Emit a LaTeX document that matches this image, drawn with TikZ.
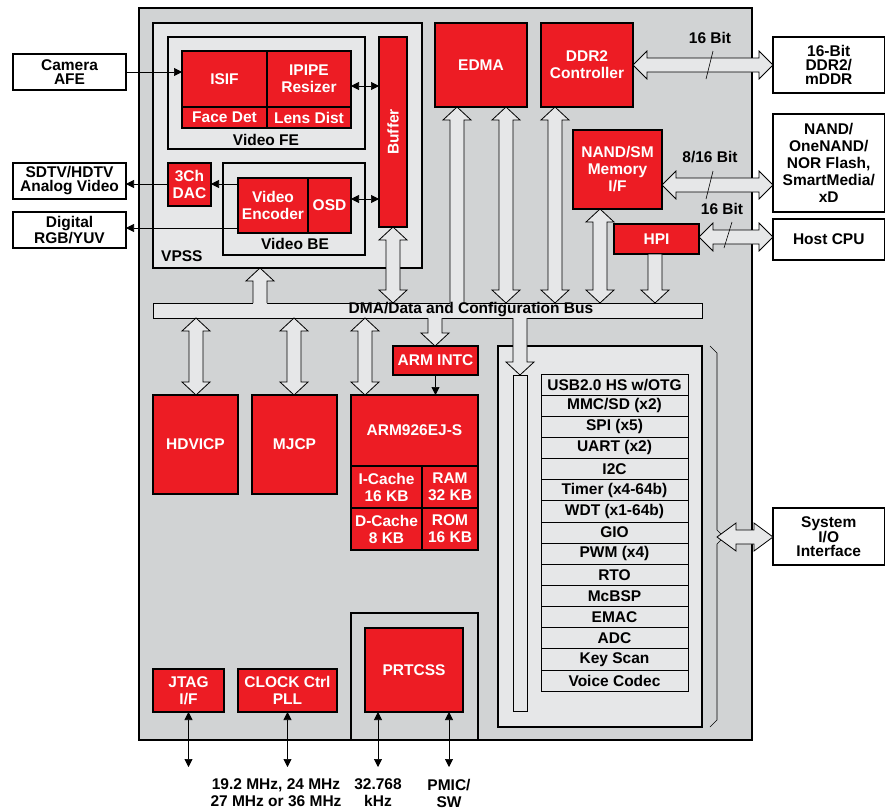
\documentclass[tikz,border=0pt]{standalone}
\usepackage{fontspec}
\setmainfont{Liberation Sans}
\usetikzlibrary{calc,arrows.meta}
\definecolor{chipg}{HTML}{D1D3D4}
\definecolor{lightg}{HTML}{E6E7E8}
\definecolor{tired}{HTML}{ED1C24}
\newcommand\tf{\bfseries\fontsize{15.5}{17}\selectfont}
\newcommand\tfs{\bfseries\fontsize{15.5}{14}\selectfont}
\tikzset{
  fatline/.style={draw=black, line width=0.8pt},
}
% vertical double-headed fat arrow: #1 top tip, #2 bottom tip
\newcommand\fatVV[2]{\path[fill=lightg,fatline] let \p1=#1, \p2=#2 in
  (\x1,\y1) -- (\x1+14pt,\y1-13pt) -- (\x1+7pt,\y1-13pt) -- (\x1+7pt,\y2+13pt) -- (\x1+14pt,\y2+13pt) -- (\x1,\y2)
  -- (\x1-14pt,\y2+13pt) -- (\x1-7pt,\y2+13pt) -- (\x1-7pt,\y1-13pt) -- (\x1-14pt,\y1-13pt) -- cycle;}
% up head only, open bottom merging into bus: #1 top tip, #2 bottom end
\newcommand\fatVU[2]{%
  \fill[lightg] let \p1=#1, \p2=#2 in (\x1,\y1) -- (\x1+14pt,\y1-13pt) -- (\x1+7pt,\y1-13pt) -- (\x1+7pt,\y2-2pt) -- (\x1-7pt,\y2-2pt) -- (\x1-7pt,\y1-13pt) -- (\x1-14pt,\y1-13pt) -- cycle;
  \draw[fatline] let \p1=#1, \p2=#2 in (\x1+7pt,\y2) -- (\x1+7pt,\y1-13pt) -- (\x1+14pt,\y1-13pt) -- (\x1,\y1) -- (\x1-14pt,\y1-13pt) -- (\x1-7pt,\y1-13pt) -- (\x1-7pt,\y2);}
% down head only, closed top: #1 top end, #2 bottom tip
\newcommand\fatVD[2]{\path[fill=lightg,fatline] let \p1=#1, \p2=#2 in
  (\x1+7pt,\y1) -- (\x1+7pt,\y2+13pt) -- (\x1+14pt,\y2+13pt) -- (\x1,\y2) -- (\x1-14pt,\y2+13pt) -- (\x1-7pt,\y2+13pt) -- (\x1-7pt,\y1) -- cycle;}
% down head only, open top merging into bus: #1 top end, #2 bottom tip
\newcommand\fatVDm[2]{%
  \fill[lightg] let \p1=#1, \p2=#2 in (\x1+7pt,\y1+2pt) -- (\x1+7pt,\y2+13pt) -- (\x1+14pt,\y2+13pt) -- (\x1,\y2) -- (\x1-14pt,\y2+13pt) -- (\x1-7pt,\y2+13pt) -- (\x1-7pt,\y1+2pt) -- cycle;
  \draw[fatline] let \p1=#1, \p2=#2 in (\x1+7pt,\y1) -- (\x1+7pt,\y2+13pt) -- (\x1+14pt,\y2+13pt) -- (\x1,\y2) -- (\x1-14pt,\y2+13pt) -- (\x1-7pt,\y2+13pt) -- (\x1-7pt,\y1);}
% horizontal double-headed fat arrow: #1 left tip, #2 right tip, #3 head length
\newcommand\fatHH[3]{\path[fill=lightg,fatline] let \p1=#1, \p2=#2 in
  (\x1,\y1) -- (\x1+#3,\y1+14pt) -- (\x1+#3,\y1+7pt) -- (\x2-#3,\y1+7pt) -- (\x2-#3,\y1+14pt) -- (\x2,\y1)
  -- (\x2-#3,\y1-14pt) -- (\x2-#3,\y1-7pt) -- (\x1+#3,\y1-7pt) -- (\x1+#3,\y1-14pt) -- cycle;}
\begin{document}
\begin{tikzpicture}[x=1pt,y=-1pt,
  area/.style args={(#1,#2)(#3,#4)}{at={({(#1+#3)/2},{(#2+#4)/2})}, minimum width={(#3-#1)*1pt}, minimum height={(#4-#2)*1pt}, inner sep=0pt, outer sep=0pt},
  redb/.style={area={#1}, draw=black, line width=1.4pt, fill=tired, text=white, font=\tf, align=center},
  extb/.style={area={#1}, draw=black, line width=1.4pt, fill=white, font=\tfs, align=center},
  lbox/.style={area={#1}, draw=black, line width=1.4pt, fill=lightg},
  gbox/.style={area={#1}, draw=black, line width=1.4pt, fill=chipg},
  barb/.style={area={#1}, draw=black, line width=0.8pt, fill=lightg},
  rowb/.style={area={#1}, draw=black, line width=0.8pt, fill=lightg, font=\tf},
  lbl/.style={font=\tf, align=center, inner sep=0pt},
  thinarr/.style={line width=0.7pt, -{Triangle[length=8pt,width=8pt]}},
  thinarrb/.style={line width=0.7pt, {Triangle[length=8pt,width=8pt]}-{Triangle[length=8pt,width=8pt]}},
]
\useasboundingbox (0,0) rectangle (886,809);
\fill[white] (0,0) rectangle (886,809);

% chip
\node[gbox={(139,8)(752,740)}] (chip) {};

% VPSS
\node[lbox={(153,23)(422,268)}] (vpss) {};
\node[lbl, anchor=west] (vpsslbl) at (161,256) {VPSS};
\node[lbox={(168,37)(365,149)}] (vfe) {};
\node[lbl] (vfelbl) at (266,140) {Video FE};
\node[lbox={(223,163)(365,255)}] (vbe) {};
\node[lbl] (vbelbl) at (295,244) {Video BE};
\node[redb={(182,51)(267,107)}] (isif) {ISIF};
\node[redb={(267,51)(351,107)}] (ipipe) {IPIPE\\Resizer};
\node[redb={(182,107)(267,128)}] (face) {Face Det};
\node[redb={(267,107)(351,128)}] (lens) {Lens Dist};
\node[redb={(379,37)(407,227)}] (buffer) {};
\node[lbl, rotate=90, text=white] (buftxt) at (buffer.center) {Buffer};
\node[redb={(168,163)(211,206)}] (dac) {3Ch\\DAC};
\node[redb={(238,178)(308,233)}] (venc) {Video\\Encoder};
\node[redb={(308,178)(351,233)}] (osd) {OSD};

% external left
\node[extb={(13,54)(126,90)}] (cam) {Camera\\AFE};
\node[extb={(13,163)(126,199)}] (sdtv) {SDTV/HDTV\\Analog Video};
\node[extb={(13,212)(126,248)}] (rgb) {Digital\\RGB/YUV};

% top right blocks
\node[redb={(435,23)(527,107)}] (edma) {EDMA};
\node[redb={(541,23)(633,107)}] (ddr) {DDR2\\Controller};
\node[redb={(573,130)(662,209)}] (nand) {NAND/SM\\Memory\\I/F};
\node[redb={(614,224)(699,254)}] (hpi) {HPI};

% external right
\node[extb={(773,37)(884.5,93)}] (ddrx) {16-Bit\\DDR2/\\mDDR};
\node[extb={(773,114)(884.5,212)}, font=\tf] (nandx) {NAND/\\OneNAND/\\NOR Flash,\\SmartMedia/\\xD};
\node[extb={(773,219)(884.5,260)}] (host) {Host CPU};
\node[extb={(773,508)(884.5,565)}] (sysio) {System\\I/O\\Interface};

% bus
\node[barb={(153,303)(702,318)}] (bus) {};

% middle blocks
\node[redb={(393,346)(478,375)}] (intc) {ARM INTC};
\node[redb={(153,395)(238,494)}] (hdvicp) {HDVICP};
\node[redb={(252,395)(337,494)}] (mjcp) {MJCP};
\node[redb={(351,395)(478,466)}] (arm) {ARM926EJ-S};
\node[redb={(351,466)(422,508)}] (icache) {I-Cache\\16 KB};
\node[redb={(422,466)(478,508)}] (ram) {RAM\\32 KB};
\node[redb={(351,508)(422,550)}] (dcache) {D-Cache\\8 KB};
\node[redb={(422,508)(478,550)}] (rom) {ROM\\16 KB};

% bottom blocks
\node[gbox={(351,613)(478,740)}] (rtcout) {};
\node[redb={(365,628)(463,712)}] (prtcss) {PRTCSS};
\node[redb={(153,669)(224,712)}] (jtag) {JTAG\\I/F};
\node[redb={(238,669)(337,712)}] (clock) {CLOCK Ctrl\\PLL};

% peripherals
\node[lbox={(498,346)(702,727)}] (perif) {};
\node[barb={(513,375)(527,711)}] (pbar) {};
\node[rowb={(541,374.0)(688,395.1)}] (r1) {USB2.0 HS w/OTG};
\node[rowb={(541,395.1)(688,416.3)}] (r2) {MMC/SD (x2)};
\node[rowb={(541,416.3)(688,437.4)}] (r3) {SPI (x5)};
\node[rowb={(541,437.4)(688,458.5)}] (r4) {UART (x2)};
\node[rowb={(541,458.5)(688,479.7)}] (r5) {I2C};
\node[rowb={(541,479.7)(688,500.8)}] (r6) {Timer (x4-64b)};
\node[rowb={(541,500.8)(688,521.9)}] (r7) {WDT (x1-64b)};
\node[rowb={(541,521.9)(688,543.1)}] (r8) {GIO};
\node[rowb={(541,543.1)(688,564.2)}] (r9) {PWM (x4)};
\node[rowb={(541,564.2)(688,585.3)}] (r10) {RTO};
\node[rowb={(541,585.3)(688,606.5)}] (r11) {McBSP};
\node[rowb={(541,606.5)(688,627.6)}] (r12) {EMAC};
\node[rowb={(541,627.6)(688,648.7)}] (r13) {ADC};
\node[rowb={(541,648.7)(688,669.9)}] (r14) {Key Scan};
\node[rowb={(541,669.9)(688,691.0)}] (r15) {Voice Codec};

% brace
\draw[line width=0.6pt] (710,346) -- (717,353) -- (717,530) -- (724,537) -- (717,544) -- (717,720) -- (710,727);

% fat arrows to/from bus
\fatVU{(260,0 |- vpss.south)}{(260,0 |- bus.north)}
\fatVV{(393,0 |- buffer.south)}{(393,0 |- bus.north)}
\fatVU{(457,0 |- edma.south)}{(457,0 |- bus.north)}
\fatVV{(506,0 |- edma.south)}{(506,0 |- bus.north)}
\fatVV{(555,0 |- ddr.south)}{(555,0 |- bus.north)}
\fatVV{(600,0 |- nand.south)}{(600,0 |- bus.north)}
\fatVD{(655,0 |- hpi.south)}{(655,0 |- bus.north)}
\fatVV{(196,0 |- bus.south)}{(196,0 |- hdvicp.north)}
\fatVV{(294,0 |- bus.south)}{(294,0 |- mjcp.north)}
\fatVV{(365,0 |- bus.south)}{(365,0 |- arm.north)}
\fatVDm{(435,0 |- bus.south)}{(435,0 |- intc.north)}
\fatVDm{(520,0 |- bus.south)}{(520,0 |- pbar.north)}

% horizontal fat arrows
\fatHH{(ddr.east)}{(ddrx.west |- ddr.east)}{14pt}
\fatHH{(nand.east |- 0,185)}{(nandx.west |- 0,185)}{14pt}
\fatHH{(hpi.east |- 0,237)}{(host.west |- 0,237)}{14pt}
\coordinate (bracetip) at (717,537);
\fatHH{(bracetip)}{(sysio.west |- bracetip)}{19pt}

% bus label
\node[lbl] (buslbl) at (471,310) {DMA/Data and Configuration Bus};

% bit width labels
\node[lbl] (bw1) at (710,38) {16 Bit};
\node[lbl] (bw2) at (710,157) {8/16 Bit};
\node[lbl] (bw3) at (722,209) {16 Bit};
\draw[line width=0.6pt] (713,51) -- (706,79);
\draw[line width=0.6pt] (713,171) -- (706,199);
\draw[line width=0.6pt] (732,222) -- (724,248);

% thin arrows in VPSS
\draw[thinarr] (cam.east) -- (cam.east -| isif.west);
\draw[thinarrb] (ipipe.east |- 0,86) -- (buffer.west |- 0,86);
\draw[thinarrb] (osd.east |- 0,199) -- (buffer.west |- 0,199);
\draw[thinarr] (venc.west |- 0,184) -- (dac.east |- 0,184);
\draw[thinarr] (dac.west |- 0,184) -- (sdtv.east |- 0,184);
\draw[thinarr] (venc.west |- 0,228) -- (rgb.east |- 0,228);
\draw[thinarr] (intc.south) -- (intc.south |- arm.north);

% bottom thin arrows
\coordinate (jtagend) at (jtag.south |- 0,767);
\coordinate (clkend) at (clock.south |- 0,767);
\coordinate (rtcA) at (378,0 |- prtcss.south);
\coordinate (rtcAend) at (378,767);
\coordinate (rtcB) at (449,0 |- prtcss.south);
\coordinate (rtcBend) at (449,767);
\draw[thinarrb] (jtag.south) -- (jtagend);
\draw[thinarrb] (clock.south) -- (clkend);
\draw[thinarrb] (rtcA) -- (rtcAend);
\draw[thinarrb] (rtcB) -- (rtcBend);

\node[lbl] (clklbl) at (276,793) {19.2 MHz, 24 MHz\\27 MHz or 36 MHz};
\node[lbl] (khzlbl) at (378,793) {32.768\\kHz};
\node[lbl] (pmiclbl) at (449,793) {PMIC/\\SW};
\end{tikzpicture}
\end{document}
